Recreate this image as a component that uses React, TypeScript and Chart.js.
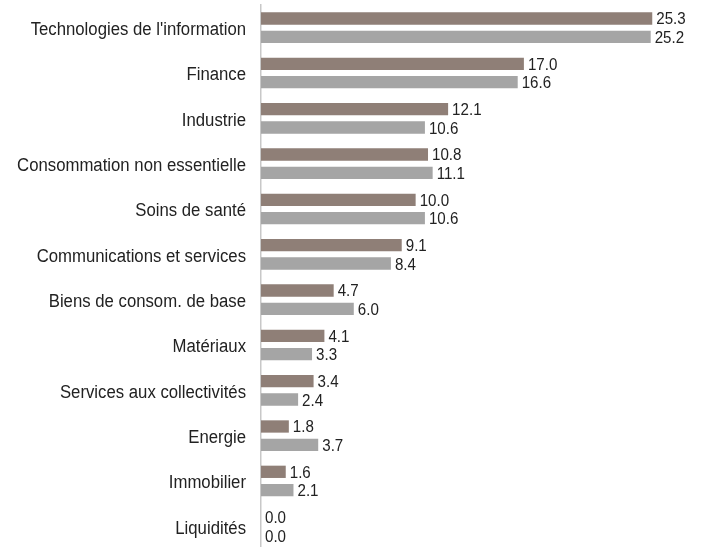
import React, { useEffect, useRef } from "react";
import { Chart, registerables } from "chart.js";

Chart.register(...registerables);

const categories = [
  "Technologies de l'information",
  "Finance",
  "Industrie",
  "Consommation non essentielle",
  "Soins de santé",
  "Communications et services",
  "Biens de consom. de base",
  "Matériaux",
  "Services aux collectivités",
  "Energie",
  "Immobilier",
  "Liquidités",
];
const seriesA = [25.3, 17.0, 12.1, 10.8, 10.0, 9.1, 4.7, 4.1, 3.4, 1.8, 1.6, 0.0];
const seriesB = [25.2, 16.6, 10.6, 11.1, 10.6, 8.4, 6.0, 3.3, 2.4, 3.7, 2.1, 0.0];
const seriesNames = ["Fonds", "Indice"];

const FONT = "'Liberation Sans', Arial, sans-serif";

const narrowText = {
  id: "narrowText",
  afterDraw(chart: any) {
    const ctx = chart.ctx;
    ctx.save();
    ctx.fillStyle = "#222222";
    ctx.textBaseline = "alphabetic";
    // category labels
    const y = chart.scales.y;
    ctx.font = `18px ${FONT}`;
    ctx.textAlign = "right";
    (chart.data.labels as string[]).forEach((lab, i) => {
      const py = y.getPixelForTick(i);
      ctx.save();
      ctx.translate(y.right - 15, py + 7.2);
      ctx.scale(0.93, 1);
      ctx.fillText(lab, 0, 0);
      ctx.restore();
    });
    // value labels
    ctx.font = `17px ${FONT}`;
    ctx.textAlign = "left";
    chart.data.datasets.forEach((ds: any, di: number) => {
      const meta = chart.getDatasetMeta(di);
      meta.data.forEach((bar: any, i: number) => {
        const v = ds.data[i] as number;
        ctx.save();
        ctx.translate(bar.x + 4, bar.y + 6);
        ctx.scale(0.89, 1);
        ctx.fillText(v.toFixed(1), 0, 0);
        ctx.restore();
      });
    });
    ctx.restore();
  },
};

export default function App() {
  const ref = useRef<HTMLCanvasElement>(null);
  useEffect(() => {
    document.body.style.margin = "0";
    const chart = new Chart(ref.current!, {
      type: "bar",
      data: {
        labels: categories,
        datasets: [
          {
            label: seriesNames[0],
            data: seriesA,
            backgroundColor: "#8f7f77",
            categoryPercentage: 0.81,
            barPercentage: 0.67,
          },
          {
            label: seriesNames[1],
            data: seriesB,
            backgroundColor: "#a5a5a5",
            categoryPercentage: 0.81,
            barPercentage: 0.67,
          },
        ],
      },
      options: {
        indexAxis: "y",
        animation: false,
        responsive: false,
        layout: { padding: { top: 5, bottom: 1, right: 10, left: 0 } },
        plugins: {
          legend: { display: false },
          tooltip: { enabled: false },
        },
        scales: {
          x: {
            display: false,
            min: 0,
            max: 28,
            grid: { display: false },
          },
          y: {
            grid: { display: false, drawTicks: false },
            border: { display: true, color: "#c8c8c8", width: 1.5 },
            ticks: { display: false, autoSkip: false },
            afterFit(axis: any) {
              axis.width = 261;
              axis.paddingTop = 0;
              axis.paddingBottom = 0;
            },
          },
        },
      },
      plugins: [narrowText],
    });
    return () => chart.destroy();
  }, []);
  return (
    <div style={{ width: 704, height: 547, overflow: "hidden" }}>
      <canvas ref={ref} width={704} height={550} />
    </div>
  );
}
